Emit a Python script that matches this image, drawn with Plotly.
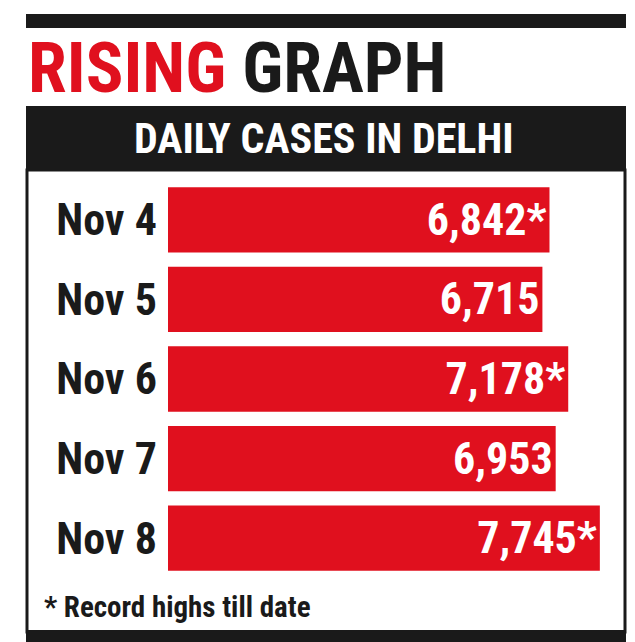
import plotly.graph_objects as go

# Data.
dates = ["Nov 4", "Nov 5", "Nov 6", "Nov 7", "Nov 8"]
cases = [6842, 6715, 7178, 6953, 7745]
record = [True, False, True, False, True]

labels = [f"<b>{v:,}" + ("*" if r else "") + "</b>" for v, r in zip(cases, record)]
tick_labels = [f"<b>{d}</b>" for d in dates]

W, H = 635, 642
FONT = "Liberation Sans Narrow, Roboto Condensed, Arial Narrow, sans-serif"


def px(x0, y0, x1, y1):
    # pixel box -> paper coords
    return dict(x0=x0 / W, x1=x1 / W, y0=1 - y1 / H, y1=1 - y0 / H)


fig = go.Figure()
fig.add_trace(go.Bar(
    x=cases, y=dates, orientation="h",
    marker=dict(color="#e0101e", line=dict(width=0)),
    width=0.82,
    text=labels, textposition="inside", insidetextanchor="end",
    textfont=dict(family=FONT, size=44, color="white"),
    cliponaxis=False,
))

shapes = [
    dict(type="rect", xref="paper", yref="paper", fillcolor="#1a1a1a", line_width=0, layer="below", **px(18, 6, 618, 20)),
    dict(type="rect", xref="paper", yref="paper", fillcolor="#1a1a1a", line_width=0, layer="below", **px(18, 98, 618, 162)),
    dict(type="rect", xref="paper", yref="paper", fillcolor="rgba(0,0,0,0)", line=dict(color="#1a1a1a", width=3), layer="below", **px(19, 162, 617, 624)),
    dict(type="rect", xref="paper", yref="paper", fillcolor="#1a1a1a", line_width=0, layer="below", **px(18, 622, 618, 634)),
]

annotations = [
    dict(text="<b><span style='color:#e0101e'>RISING</span> <span style='color:#1a1a1a'>GRAPH</span></b>",
         x=18 / W, y=1 - 60 / H, xref="paper", yref="paper", xanchor="left", yanchor="middle",
         showarrow=False, font=dict(family=FONT, size=70)),
    dict(text="<b>DAILY CASES IN DELHI</b>", x=316 / W, y=1 - 131 / H, xref="paper", yref="paper",
         xanchor="center", yanchor="middle", showarrow=False,
         font=dict(family=FONT, size=42, color="white")),
    dict(text="<b>* Record highs till date</b>", x=34 / W, y=1 - 599 / H, xref="paper", yref="paper",
         xanchor="left", yanchor="middle", showarrow=False,
         font=dict(family=FONT, size=29, color="#1a1a1a")),
]

fig.update_layout(
    width=W, height=H, margin=dict(l=0, r=0, t=0, b=0),
    paper_bgcolor="white", plot_bgcolor="white",
    showlegend=False, bargap=0.18,
    shapes=shapes, annotations=annotations,
    xaxis=dict(domain=[160 / W, 620 / W], range=[0, 8250], visible=False),
    yaxis=dict(domain=[1 - 570 / H, 1 - 172 / H], autorange="reversed",
               showgrid=False, zeroline=False, showline=False, ticks="",
               ticklabelstandoff=10,
               tickvals=dates, ticktext=tick_labels,
               tickfont=dict(family=FONT, size=44, color="#1a1a1a")),
)

fig.write_html("out.html")
